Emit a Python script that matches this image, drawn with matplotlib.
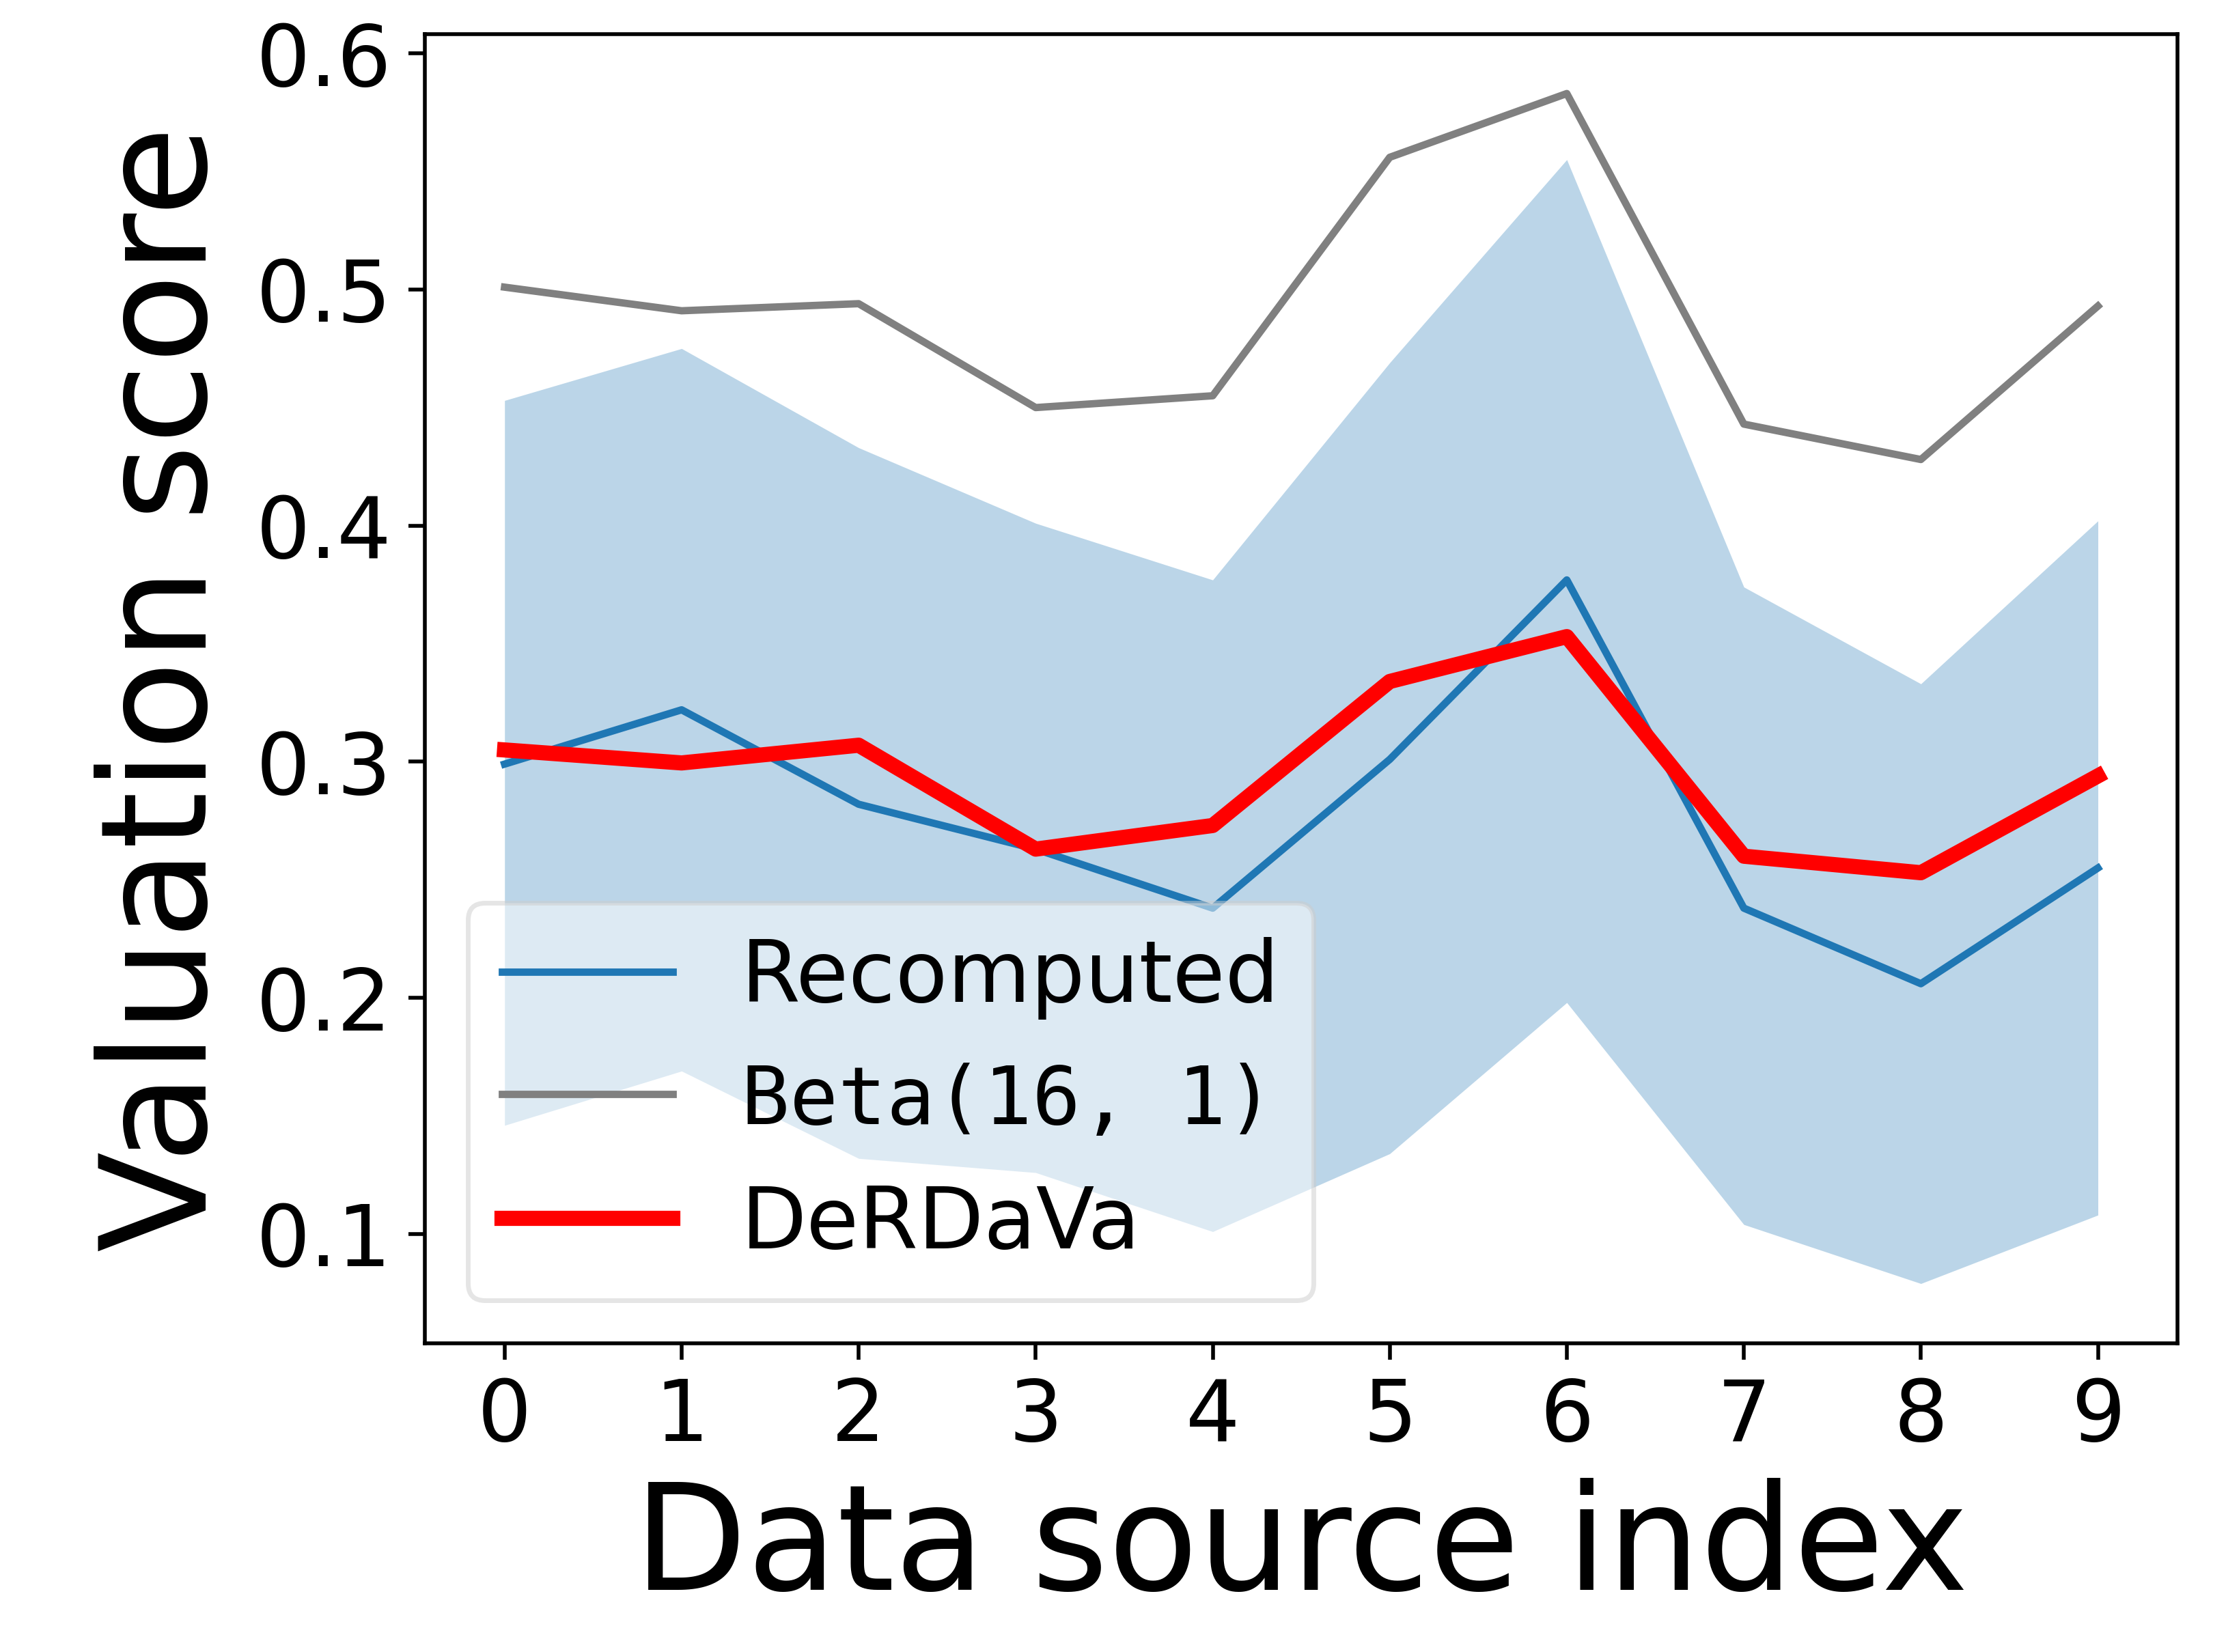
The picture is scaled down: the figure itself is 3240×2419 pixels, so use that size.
import matplotlib
matplotlib.use("Agg")
import matplotlib.pyplot as plt
import numpy as np

x_idx = list(range(10))
recomputed = [0.299, 0.322, 0.282, 0.263, 0.238, 0.301, 0.377, 0.238, 0.206, 0.255]
beta = [0.501, 0.491, 0.494, 0.450, 0.455, 0.556, 0.583, 0.443, 0.428, 0.493]
derdava = [0.305, 0.2995, 0.307, 0.263, 0.273, 0.334, 0.353, 0.260, 0.253, 0.294]
band_upper = [0.453, 0.475, 0.433, 0.401, 0.377, 0.469, 0.555, 0.374, 0.333, 0.402]
band_lower = [0.146, 0.169, 0.132, 0.126, 0.101, 0.134, 0.198, 0.104, 0.079, 0.108]

fig = plt.figure(figsize=(6.48, 4.838), dpi=500)
ax = fig.add_axes([0.192, 0.187, 0.792, 0.7924])

ax.fill_between(x_idx, band_lower, band_upper, color="C0", alpha=0.3, linewidth=0)
ax.plot(x_idx, recomputed, color="C0", lw=1.55, label="Recomputed")
ax.plot(x_idx, beta, color="grey", lw=1.55, label="Beta(16, 1)")
ax.plot(x_idx, derdava, color="red", lw=3.2, label="DeRDaVa")

ax.set_xticks(x_idx)
ax.tick_params(labelsize=18)
ax.set_xlabel("Data source index", fontsize=31)
ax.set_ylabel("Valuation score", fontsize=31)

leg = ax.legend(loc="lower left", fontsize=18, framealpha=0.5, labelspacing=0.5)
t = leg.get_texts()[1]
t.set_family("DejaVu Sans Mono")
t.set_fontsize(17)

fig.savefig("out.png", dpi=500)
